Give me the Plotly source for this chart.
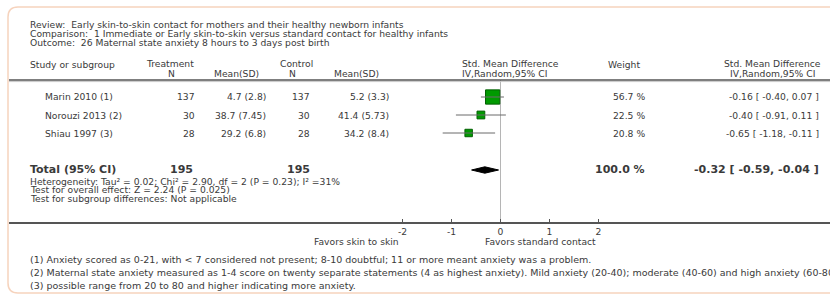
import plotly.graph_objects as go

# ---------------- data ----------------
studies = ["Marin 2010 (1)", "Norouzi 2013 (2)", "Shiau 1997 (3)"]
trt_n = [137, 30, 28]
trt_mean = [4.7, 38.7, 29.2]
trt_sd = [2.8, 7.45, 6.8]
ctl_n = [137, 30, 28]
ctl_mean = [5.2, 41.4, 34.2]
ctl_sd = [3.3, 5.73, 8.4]
weights = [56.7, 22.5, 20.8]
smd = [-0.16, -0.40, -0.65]
ci_lo = [-0.40, -0.91, -1.18]
ci_hi = [0.07, 0.11, -0.11]

total_trt_n = 195
total_ctl_n = 195
total_weight = 100.0
total_smd = -0.32
total_lo = -0.59
total_hi = -0.04

tick_vals = [-2, -1, 0, 1, 2]
tick_labels = ["-2", "-1", "0", "1", "2"]

title_lines = [
    "Review:&nbsp; Early skin-to-skin contact for mothers and their healthy newborn infants",
    "Comparison:&nbsp; 1 Immediate or Early skin-to-skin versus standard contact for healthy infants",
    "Outcome:&nbsp; 26 Maternal state anxiety 8 hours to 3 days post birth",
]
stats_lines = [
    "Heterogeneity: Tau² = 0.02; Chi² = 2.90, df = 2 (P = 0.23); I² =31%",
    "Test for overall effect: Z = 2.24 (P = 0.025)",
    "Test for subgroup differences: Not applicable",
]
footnotes = [
    "(1) Anxiety scored as 0-21, with &lt; 7 considered not present; 8-10 doubtful; 11 or more meant anxiety was a problem.",
    "(2) Maternal state anxiety measured as 1-4 score on twenty separate statements (4 as highest anxiety). Mild anxiety (20-40); moderate (40-60) and high anxiety (60-80)",
    "(3) possible range from 20 to 80 and higher indicating more anxiety.",
]
left_label = "Favors skin to skin"
right_label = "Favors standard contact"

# ---------------- layout geometry ----------------
W, H = 830, 297
FONT = "DejaVu Sans"
TXT = "#3a3a3a"
FS = 9.2
row_y = [97, 115, 133]
total_y = 170
axis_y = 223
header_line_y = 80
zero_px = 500.5
unit_px = 49.0
ax_left_px = 9

def px(x):
    return x / W

def py(y):
    return 1 - y / H

xmin = (ax_left_px - zero_px) / unit_px
xmax = (W - zero_px) / unit_px

fig = go.Figure()

# CI lines
ci_x, ci_y = [], []
for lo, hi, y in zip(ci_lo, ci_hi, row_y):
    ci_x += [lo, hi, None]
    ci_y += [y, y, None]

# squares
sizes = [3.5 + w * 0.19 for w in weights]
fig.add_trace(go.Scatter(
    x=smd, y=row_y, mode="markers",
    marker=dict(symbol="square", size=sizes, color="#009a00", opacity=1,
                line=dict(color="#006000", width=1)),
    hoverinfo="skip", showlegend=False))
fig.add_trace(go.Scatter(
    x=ci_x, y=ci_y, mode="lines", line=dict(color="#6a6a6a", width=1),
    hoverinfo="skip", showlegend=False))

# diamond
dh = 3.2
fig.add_trace(go.Scatter(
    x=[total_lo, total_smd, total_hi, total_smd, total_lo],
    y=[total_y, total_y - dh, total_y, total_y + dh, total_y],
    mode="lines", fill="toself", fillcolor="black",
    line=dict(color="black", width=1), hoverinfo="skip", showlegend=False))

annotations = []

def txt(x, y, s, anchor="left", size=FS, bold=False, color=TXT):
    if bold:
        s = "<b>" + s + "</b>"
    annotations.append(dict(
        x=px(x), y=py(y), xref="paper", yref="paper", text=s,
        xanchor=anchor, yanchor="middle", showarrow=False,
        font=dict(family=FONT, size=size, color=color)))

for i, line in enumerate(title_lines):
    txt(28, 25 + i * 8.7, line)

# headers
txt(28, 64, "Study or subgroup")
txt(170, 63.5, "Treatment", "center")
txt(171, 73, "N", "center")
txt(236, 73, "Mean(SD)", "center")
txt(296, 63.5, "Control", "center")
txt(292, 73, "N", "center")
txt(356, 73, "Mean(SD)", "center")
txt(460, 63.5, "Std. Mean Difference")
txt(460, 73, "IV,Random,95% CI")
txt(624, 64, "Weight", "center")
txt(772, 63.5, "Std. Mean Difference", "center")
txt(772, 73, "IV,Random,95% CI", "center")

# study rows
for i, y in enumerate(row_y):
    txt(43, y, studies[i])
    txt(197, y, str(trt_n[i]), "right")
    txt(268, y, f"{trt_mean[i]} ({trt_sd[i]})", "right")
    txt(312, y, str(ctl_n[i]), "right")
    txt(391, y, f"{ctl_mean[i]} ({ctl_sd[i]})", "right")
    txt(647, y, f"{weights[i]:.1f} %", "right")
    txt(821, y, f"{smd[i]:.2f} [ {ci_lo[i]:.2f}, {ci_hi[i]:.2f} ]", "right")

# total row
txt(28, total_y, "Total (95% CI)", size=11, bold=True)
txt(195, total_y, str(total_trt_n), "right", size=11, bold=True)
txt(312, total_y, str(total_ctl_n), "right", size=11, bold=True)
txt(647, total_y, f"{total_weight:.1f} %", "right", size=11, bold=True)
txt(821, total_y, f"{total_smd:.2f} [ {total_lo:.2f}, {total_hi:.2f} ]", "right", size=11, bold=True)

for i, line in enumerate(stats_lines):
    txt(28, 181 + i * 8.7, line)

txt(401, 241, left_label, "right")
txt(483, 241, right_label, "left")

for i, line in enumerate(footnotes):
    txt(28, 259.5 + i * 12.8, line, size=9.5)

# shapes
r = 10
bx0, by0, by1 = 8, 7, 293
bx1 = W + 20
border = (f"M {px(bx0 + r)},{py(by0)} L {px(bx1)},{py(by0)} "
          f"L {px(bx1)},{py(by1)} L {px(bx0 + r)},{py(by1)} "
          f"Q {px(bx0)},{py(by1)} {px(bx0)},{py(by1 - r)} "
          f"L {px(bx0)},{py(by0 + r)} Q {px(bx0)},{py(by0)} {px(bx0 + r)},{py(by0)} Z")
shapes = [
    dict(type="path", path=border, xref="paper", yref="paper",
         line=dict(color="#f6d3bd", width=1.5), layer="below"),
    dict(type="line", xref="paper", yref="paper", x0=px(ax_left_px), x1=1.0,
         y0=py(header_line_y), y1=py(header_line_y),
         line=dict(color="#555555", width=1.6)),
    dict(type="line", xref="paper", yref="paper", x0=px(ax_left_px), x1=1.0,
         y0=py(header_line_y + 1.6), y1=py(header_line_y + 1.6),
         line=dict(color="#c8c8c8", width=1)),
    dict(type="line", xref="x", yref="paper", x0=0, x1=0,
         y0=py(axis_y), y1=py(header_line_y),
         line=dict(color="#b5b5b5", width=1), layer="below"),
]

fig.update_layout(
    width=W, height=H,
    margin=dict(l=0, r=0, t=0, b=0),
    paper_bgcolor="white", plot_bgcolor="white",
    showlegend=False,
    annotations=annotations,
    shapes=shapes,
    xaxis=dict(
        domain=[px(ax_left_px), 1.0], range=[xmin, xmax],
        anchor="free", position=py(axis_y),
        showline=True, linecolor="#555555", linewidth=1.5,
        ticks="inside", ticklen=3, tickcolor="#555555",
        tickvals=tick_vals, ticktext=tick_labels,
        tickfont=dict(family=FONT, size=FS, color=TXT),
        showgrid=False, zeroline=False, fixedrange=True,
    ),
    yaxis=dict(range=[H, 0], domain=[0, 1], visible=False,
               showgrid=False, zeroline=False, fixedrange=True),
)

fig.write_html(
    "out.html",
    config={"displayModeBar": False},
    post_script="document.body.style.margin='0';document.body.style.overflow='hidden';",
)
